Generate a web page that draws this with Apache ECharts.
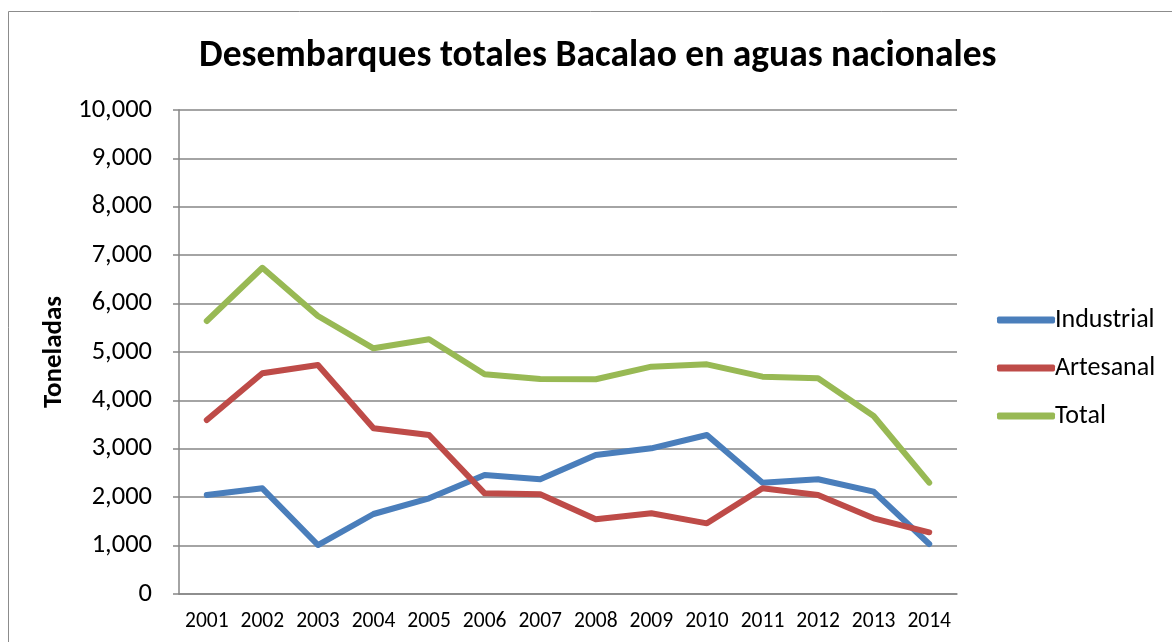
<!DOCTYPE html>
<html>
<head>
<meta charset="utf-8">
<script src="https://cdn.jsdelivr.net/npm/echarts@6/dist/echarts.min.js"></script>
<style>html,body{margin:0;padding:0;background:#fff}#c{width:1172px;height:642px}</style>
</head>
<body>
<div id="c"></div>
<script>
const years = ['2001','2002','2003','2004','2005','2006','2007','2008','2009','2010','2011','2012','2013','2014'];
const industrial = [2045, 2184, 1012, 1653, 1977, 2459, 2370, 2872, 3010, 3285, 2300, 2370, 2114, 1033];
const artesanal = [3595, 4560, 4731, 3423, 3285, 2080, 2060, 1543, 1667, 1460, 2184, 2045, 1564, 1275];
const total = [5640, 6740, 5744, 5076, 5262, 4539, 4442, 4436, 4697, 4745, 4490, 4456, 3678, 2300];
const seriesNames = ['Industrial', 'Artesanal', 'Total'];
const colors = ['#4A7EBB', '#BE4B48', '#98B954'];
const FONT = 'Carlito, Lato, sans-serif';

const chart = echarts.init(document.getElementById('c'));
const mk = (name, data, color) => ({
  name, type: 'line', data, symbol: 'none', smooth: false,
  lineStyle: { color, width: 6, cap: 'round', join: 'round' },
  itemStyle: { color },
  emphasis: { disabled: true }
});
chart.setOption({
  animation: false,
  backgroundColor: '#fff',
  textStyle: { fontFamily: FONT },
  graphic: [{
    type: 'rect', shape: { x: 8.5, y: 11.5, width: 1200, height: 700 },
    style: { fill: 'none', stroke: '#8c8c8c', lineWidth: 1 }, silent: true, z: -1
  }],
  title: {
    text: 'Desembarques totales Bacalao en aguas nacionales',
    left: 194, top: 33,
    textStyle: { fontFamily: FONT, fontSize: 37.5, fontWeight: 'bold', color: '#000' }
  },
  legend: {
    orient: 'vertical', left: 992, top: 302, itemGap: 22,
    itemWidth: 58, itemHeight: 7,
    icon: 'roundRect',
    textStyle: { fontFamily: FONT, fontSize: 26, color: '#000', padding: [0, 0, 0, -5] },
    data: seriesNames
  },
  grid: { left: 179, right: 215, top: 110, bottom: 48 },
  xAxis: {
    type: 'category', data: years, boundaryGap: true,
    axisLine: { show: true, lineStyle: { color: '#868686', width: 1.5 } },
    axisTick: { show: false },
    axisLabel: { fontFamily: FONT, fontSize: 21.5, color: '#000', margin: 17, interval: 0, hideOverlap: false }
  },
  yAxis: {
    type: 'value', min: 0, max: 10000, interval: 1000,
    name: 'Toneladas', nameLocation: 'middle', nameRotate: 90, nameGap: 100,
    nameTextStyle: { fontFamily: FONT, fontSize: 27, fontWeight: 'bold', color: '#000' },
    axisLine: { show: true, lineStyle: { color: '#868686', width: 1.5 } },
    axisTick: { show: true, inside: false, length: 6, lineStyle: { color: '#868686', width: 1.5 } },
    splitLine: { lineStyle: { color: '#868686', width: 1.5 } },
    axisLabel: {
      fontFamily: FONT, fontSize: 26.5, color: '#000', margin: 27,
      formatter: v => v.toLocaleString('en-US')
    }
  },
  series: [
    mk(seriesNames[0], industrial, colors[0]),
    mk(seriesNames[1], artesanal, colors[1]),
    mk(seriesNames[2], total, colors[2])
  ]
});
</script>
</body>
</html>
